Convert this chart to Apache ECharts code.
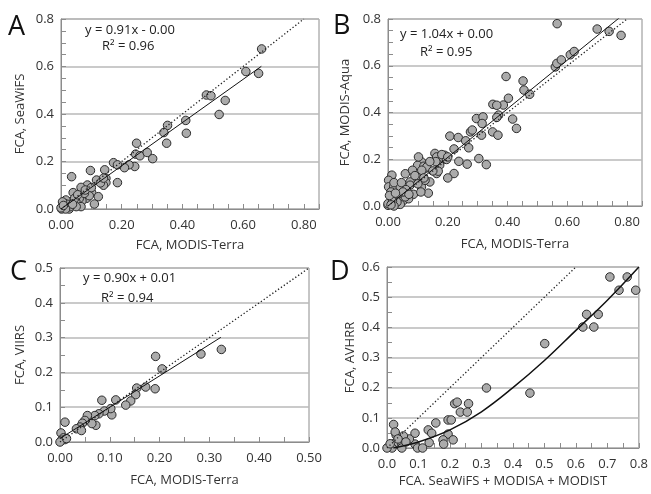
<!DOCTYPE html>
<html>
<head>
<meta charset="utf-8">
<script src="https://cdn.jsdelivr.net/npm/echarts@6/dist/echarts.min.js"></script>
<style>
  html, body { margin: 0; padding: 0; background: #fff; }
  #chart { width: 651px; height: 494px; }
</style>
</head>
<body>
<div id="chart"></div>
<script>
// scatter points, [x, y]
var aPoints = [
    [0.661, 0.674], [0.609, 0.579], [0.651, 0.571], [0.479, 0.480], [0.494, 0.477], [0.541, 0.457],
    [0.521, 0.398], [0.411, 0.373], [0.413, 0.319], [0.351, 0.352], [0.339, 0.322], [0.348, 0.277],
    [0.249, 0.277], [0.246, 0.231], [0.260, 0.224], [0.284, 0.238], [0.302, 0.212], [0.243, 0.179],
    [0.224, 0.186], [0.209, 0.174], [0.173, 0.195], [0.186, 0.186], [0.186, 0.111], [0.144, 0.165],
    [0.097, 0.162], [0.035, 0.136], [0.148, 0.129], [0.148, 0.111], [0.140, 0.100], [0.117, 0.122],
    [0.087, 0.101], [0.066, 0.091], [0.101, 0.069], [0.123, 0.052], [0.110, 0.021], [0.084, 0.045],
    [0.069, 0.034], [0.040, 0.069], [0.060, 0.044], [0.049, 0.031], [0.066, 0.010], [0.033, 0.031],
    [0.016, 0.038], [0.011, 0.024], [0.005, 0.010], [0.022, 0.007], [0.011, 0.003], [0.002, 0.000],
    [0.093, 0.056], [0.077, 0.066], [0.050, 0.010], [0.027, 0.000], [0.080, 0.080], [0.100, 0.090],
    [0.130, 0.110], [0.020, 0.020], [0.005, 0.030], [0.030, 0.010], [0.045, 0.045], [0.015, 0.000],
    [0.000, 0.005], [0.008, 0.015], [0.038, 0.020], [0.055, 0.060], [0.140, 0.130]
];
var bPoints = [
    [0.566, 0.780], [0.700, 0.757], [0.740, 0.747], [0.780, 0.730], [0.560, 0.595], [0.565, 0.610],
    [0.580, 0.625], [0.610, 0.647], [0.623, 0.661], [0.395, 0.554], [0.452, 0.535], [0.455, 0.496],
    [0.474, 0.478], [0.403, 0.461], [0.386, 0.432], [0.417, 0.372], [0.430, 0.332], [0.351, 0.435],
    [0.364, 0.431], [0.370, 0.389], [0.364, 0.379], [0.296, 0.374], [0.318, 0.381], [0.315, 0.353],
    [0.276, 0.317], [0.282, 0.325], [0.313, 0.303], [0.350, 0.317], [0.368, 0.303], [0.207, 0.299],
    [0.235, 0.293], [0.260, 0.279], [0.270, 0.249], [0.221, 0.244], [0.304, 0.203], [0.329, 0.177],
    [0.265, 0.179], [0.237, 0.191], [0.221, 0.139], [0.200, 0.120], [0.157, 0.225], [0.163, 0.210],
    [0.190, 0.217], [0.179, 0.196], [0.196, 0.199], [0.173, 0.175], [0.163, 0.139], [0.124, 0.160],
    [0.112, 0.189], [0.099, 0.174], [0.102, 0.210], [0.120, 0.170], [0.168, 0.149], [0.130, 0.167],
    [0.140, 0.103], [0.135, 0.055], [0.112, 0.082], [0.091, 0.110], [0.085, 0.050], [0.058, 0.138],
    [0.013, 0.132], [0.002, 0.110], [0.002, 0.082], [0.019, 0.082], [0.041, 0.081], [0.057, 0.053],
    [0.035, 0.046], [0.013, 0.039], [0.024, 0.024], [0.052, 0.024], [0.069, 0.031], [0.008, 0.010],
    [0.030, 0.007], [0.000, 0.003], [0.041, 0.007], [0.074, 0.103], [0.074, 0.089], [0.102, 0.124],
    [0.113, 0.153], [0.082, 0.153], [0.124, 0.110], [0.058, 0.039], [0.030, 0.017], [0.000, 0.010],
    [0.010, 0.060], [0.020, 0.100], [0.045, 0.100], [0.060, 0.070], [0.090, 0.130], [0.100, 0.095],
    [0.120, 0.120], [0.150, 0.150], [0.050, 0.060], [0.015, 0.020], [0.005, 0.045], [0.025, 0.055],
    [0.070, 0.050], [0.110, 0.060], [0.160, 0.190], [0.180, 0.220], [0.140, 0.190], [0.200, 0.210],
    [0.020, 0.000], [0.010, 0.005]
];
var cPoints = [
    [0.324, 0.266], [0.283, 0.253], [0.192, 0.246], [0.205, 0.210], [0.191, 0.153], [0.154, 0.155],
    [0.172, 0.158], [0.152, 0.136], [0.142, 0.118], [0.132, 0.106], [0.112, 0.121], [0.104, 0.078],
    [0.102, 0.096], [0.084, 0.120], [0.089, 0.089], [0.078, 0.081], [0.070, 0.076], [0.072, 0.048],
    [0.064, 0.053], [0.055, 0.076], [0.050, 0.062], [0.045, 0.054], [0.040, 0.043], [0.033, 0.038],
    [0.043, 0.033], [0.010, 0.057], [0.002, 0.026], [0.007, 0.012], [0.010, 0.007], [0.003, 0.005],
    [0.000, 0.000], [0.013, 0.010]
];
var dPoints = [
    [0.708, 0.567], [0.737, 0.523], [0.763, 0.567], [0.790, 0.523], [0.622, 0.401], [0.634, 0.443],
    [0.657, 0.401], [0.671, 0.443], [0.501, 0.346], [0.454, 0.182], [0.316, 0.199], [0.215, 0.147],
    [0.223, 0.152], [0.259, 0.147], [0.233, 0.119], [0.255, 0.119], [0.155, 0.083], [0.194, 0.093],
    [0.204, 0.093], [0.131, 0.060], [0.142, 0.049], [0.194, 0.046], [0.178, 0.027], [0.180, 0.013],
    [0.210, 0.027], [0.134, 0.018], [0.089, 0.049], [0.089, 0.013], [0.097, 0.000], [0.113, 0.000],
    [0.071, 0.030], [0.052, 0.040], [0.021, 0.078], [0.029, 0.043], [0.026, 0.053], [0.047, 0.016],
    [0.047, 0.000], [0.021, 0.014], [0.005, 0.003], [0.016, 0.000], [0.000, 0.000], [0.010, 0.014],
    [0.035, 0.030], [0.060, 0.020]
];

// linear fits for A, B, C (slope, intercept, x range)
var fitSlope = [0.91, 1.04, 0.90];
var fitIntercept = [0.0, 0.0, 0.01];
var fitRange = [[0, 0.66], [0, 0.78], [0, 0.323]];
// curved fit in D
var dCurveX = [0.02, 0.1, 0.2, 0.3, 0.4, 0.5, 0.6, 0.7, 0.8];
var dCurveY = [0.0, 0.02, 0.06, 0.12, 0.2, 0.29, 0.39, 0.49, 0.6];

var panelLetters = ['A', 'B', 'C', 'D'];
var xTitles = ['FCA, MODIS-Terra', 'FCA, MODIS-Terra', 'FCA, MODIS-Terra', 'FCA. SeaWiFS + MODISA + MODIST'];
var yTitles = ['FCA, SeaWiFS', 'FCA, MODIS-Aqua', 'FCA, VIIRS', 'FCA, AVHRR'];
var equations = ['y = 0.91x - 0.00', 'y = 1.04x + 0.00', 'y = 0.90x + 0.01'];
var rSquared = ['R² = 0.96', 'R² = 0.95', 'R² = 0.94'];
var xMax = [0.85, 0.85, 0.5, 0.8];
var yMax = [0.8, 0.8, 0.5, 0.6];
var xMajor = [0.2, 0.2, 0.1, 0.1];
var yMajor = [0.2, 0.2, 0.1, 0.1];
var xDecimals = [2, 2, 2, 1];
var oneToOneMax = [0.8, 0.8, 0.5, 0.6];

var FONT = '"Open Sans", "Liberation Sans", sans-serif';
var AXIS_COLOR = '#8c8c8c';
var TEXT_COLOR = '#333';

var grids = [
    { left: 61, top: 19, width: 258, height: 190 },
    { left: 388, top: 19, width: 254, height: 187 },
    { left: 60, top: 268, width: 249, height: 174 },
    { left: 387, top: 267, width: 254, height: 181 }
];
var xNameGap = [30, 32, 32, 27];
var yNameGap = [34, 36, 33, 30];
var xNamePad = [[0, 0, 0, 0], [0, 0, 0, 0], [0, 0, 0, 0], [0, 20, 0, 0]];
var letterPos = [[8, 31], [333, 30], [10, 276], [330, 276]];
var eqPos = [[85, 32, 102, 48], [400, 36, 420, 54], [83, 280, 101, 300]];

function onMajor(v, step) {
    var r = v / step;
    return Math.abs(r - Math.round(r)) < 1e-6;
}

var xAxes = [], yAxes = [], series = [], graphics = [];
for (var i = 0; i < 4; i++) {
    grids[i].show = true;
    grids[i].borderColor = AXIS_COLOR;
    grids[i].borderWidth = 1;
    (function (i) {
        xAxes.push({
            type: 'value', gridIndex: i, min: 0, max: xMax[i], interval: 0.05,
            name: xTitles[i], nameLocation: 'middle', nameGap: xNameGap[i],
            nameTextStyle: { fontFamily: FONT, fontSize: 13, color: TEXT_COLOR, padding: xNamePad[i] },
            axisLine: { lineStyle: { color: AXIS_COLOR, width: 1 } },
            axisTick: { inside: true, length: 5, lineStyle: { color: AXIS_COLOR } },
            axisLabel: {
                fontFamily: FONT, fontSize: 13, color: TEXT_COLOR, margin: 10,
                formatter: function (v) { return onMajor(v, xMajor[i]) ? v.toFixed(xDecimals[i]) : ''; }
            },
            splitLine: { show: false }
        });
        yAxes.push({
            type: 'value', gridIndex: i, min: 0, max: yMax[i], interval: yMajor[i],
            name: yTitles[i], nameLocation: 'middle', nameGap: yNameGap[i], nameRotate: 90,
            nameTextStyle: { fontFamily: FONT, fontSize: 13, color: TEXT_COLOR },
            axisLine: { lineStyle: { color: AXIS_COLOR, width: 1 } },
            axisTick: { inside: true, length: 5, lineStyle: { color: AXIS_COLOR } },
            minorTick: { show: true, splitNumber: Math.round(yMajor[i] / 0.05), length: 5, lineStyle: { color: AXIS_COLOR } },
            axisLabel: {
                fontFamily: FONT, fontSize: 13, color: TEXT_COLOR, margin: 7,
                formatter: function (v) { return v.toFixed(1); }
            },
            splitLine: { show: true, lineStyle: { color: '#b8b8b8', width: 1.5 } }
        });
    })(i);
}

var allPoints = [aPoints, bPoints, cPoints, dPoints];
for (var i = 0; i < 4; i++) {
    series.push({
        type: 'scatter', xAxisIndex: i, yAxisIndex: i, data: allPoints[i],
        symbolSize: 8.5, z: 2,
        itemStyle: { color: '#ababab', borderColor: '#2b2b2b', borderWidth: 1, opacity: 1 }
    });
    // 1:1 line
    series.push({
        type: 'line', xAxisIndex: i, yAxisIndex: i, showSymbol: false, z: 3, silent: true,
        data: [[0, 0], [oneToOneMax[i], oneToOneMax[i]]],
        lineStyle: { color: '#222', width: 1.3, type: [1.3, 2.2] }
    });
}
for (var j = 0; j < 3; j++) {
    var r = fitRange[j];
    series.push({
        type: 'line', xAxisIndex: j, yAxisIndex: j, showSymbol: false, z: 3, silent: true, clip: true,
        data: [[r[0], fitSlope[j] * r[0] + fitIntercept[j]], [r[1], fitSlope[j] * r[1] + fitIntercept[j]]],
        lineStyle: { color: '#111', width: 1 }
    });
    graphics.push({ type: 'text', left: eqPos[j][0], top: eqPos[j][1] - 8,
        style: { text: equations[j], font: '13px ' + FONT, fill: '#222' } });
    graphics.push({ type: 'text', left: eqPos[j][2], top: eqPos[j][3] - 8,
        style: { text: rSquared[j], font: '13px ' + FONT, fill: '#222' } });
}
var dCurve = [];
for (var k = 0; k < dCurveX.length; k++) dCurve.push([dCurveX[k], dCurveY[k]]);
series.push({
    type: 'line', xAxisIndex: 3, yAxisIndex: 3, showSymbol: false, z: 3, silent: true, smooth: 0.4,
    data: dCurve, lineStyle: { color: '#111', width: 1.5 }
});
for (var i = 0; i < 4; i++) {
    graphics.push({ type: 'text', left: letterPos[i][0], top: letterPos[i][1] - 17,
        style: { text: panelLetters[i], font: '27px ' + FONT, fill: '#111' } });
}

var chart = echarts.init(document.getElementById('chart'), null, { renderer: 'canvas' });
chart.setOption({
    animation: false,
    backgroundColor: '#fff',
    grid: grids,
    xAxis: xAxes,
    yAxis: yAxes,
    series: series,
    graphic: graphics
});
</script>
</body>
</html>
